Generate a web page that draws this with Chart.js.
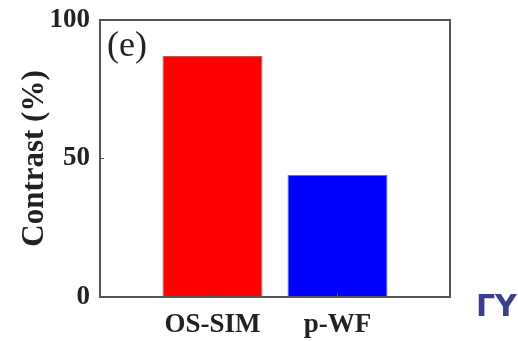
<!DOCTYPE html>
<html>
<head>
<meta charset="utf-8">
<script src="https://cdn.jsdelivr.net/npm/chart.js@4/dist/chart.umd.min.js"></script>
<style>
  html, body { margin: 0; padding: 0; background: #fff; }
  #wrap { width: 518px; height: 341px; position: relative; }
  #corner { position: absolute; left: 476px; top: 288px; font: bold 30px "DejaVu Sans", sans-serif; color: #3b3f8f; }
</style>
</head>
<body>
<div id="wrap">
  <canvas id="myChart" width="518" height="341"></canvas>
  <div id="corner">ΓΥ</div>
</div>
<script>
const categories = ["OS-SIM", "p-WF"];
const positions = [1, 2];
const contrast = [87, 44];
const barColors = ["#ff0000", "#0000ff"];
const yTicks = [0, 50, 100];

const serif = "'Liberation Serif', 'Times New Roman', serif";

// box around the plot, inward tick marks and the panel letter
const boxPlugin = {
  id: "box",
  afterDraw(chart) {
    const { ctx, chartArea: a, scales } = chart;
    ctx.save();
    ctx.strokeStyle = "#555";
    ctx.lineWidth = 2;
    ctx.strokeRect(a.left, a.top, a.right - a.left, a.bottom - a.top);
    ctx.lineWidth = 1;
    scales.y.ticks.forEach((t, i) => {
      const y = scales.y.getPixelForTick(i);
      ctx.beginPath();
      ctx.moveTo(a.left, y);
      ctx.lineTo(a.left + 4, y);
      ctx.stroke();
    });
    scales.x.ticks.forEach((t, i) => {
      const x = scales.x.getPixelForTick(i);
      ctx.beginPath();
      ctx.moveTo(x, a.bottom);
      ctx.lineTo(x, a.bottom - 4);
      ctx.stroke();
    });
    ctx.fillStyle = "#222";
    ctx.font = "36px " + serif;
    ctx.textBaseline = "top";
    ctx.fillText("(e)", a.left + 7, a.top + 9);
    ctx.restore();
  },
};

const ctx = document.getElementById("myChart");
new Chart(ctx, {
  type: "bar",
  data: {
    datasets: [
      {
        data: positions.map((x, i) => ({ x: x, y: contrast[i] })),
        backgroundColor: barColors,
        borderColor: "#777",
        borderWidth: 1,
        barPercentage: 1,
        categoryPercentage: 0.8,
      },
    ],
  },
  options: {
    responsive: false,
    animation: false,
    layout: { padding: { top: 20, right: 68, left: 0, bottom: 0 } },
    plugins: { legend: { display: false }, tooltip: { enabled: false } },
    scales: {
      x: {
        type: "linear",
        min: 0.1,
        max: 2.9,
        offset: false,
        grid: { display: false, drawTicks: false, offset: false },
        border: { display: false },
        afterBuildTicks: (scale) => {
          scale.ticks = positions.map((v) => ({ value: v }));
        },
        afterFit: (scale) => {
          scale.height = 44;
          scale.paddingLeft = 0;
          scale.paddingRight = 0;
        },
        ticks: {
          autoSkip: false,
          maxRotation: 0,
          padding: 12,
          color: "#222",
          font: { family: serif, size: 27, weight: "bold" },
          callback: (v) => categories[positions.indexOf(v)],
        },
      },
      y: {
        min: 0,
        max: 100,
        grid: { display: false, drawTicks: false },
        border: { display: false },
        afterBuildTicks: (scale) => {
          scale.ticks = yTicks.map((v) => ({ value: v }));
        },
        afterFit: (scale) => {
          scale.width = 100;
          scale.paddingTop = 0;
          scale.paddingBottom = 0;
        },
        ticks: {
          padding: 10,
          color: "#222",
          font: { family: serif, size: 27, weight: "bold" },
        },
        title: {
          display: true,
          text: "Contrast (%)",
          color: "#222",
          padding: { top: 16, bottom: 0 },
          font: { family: serif, size: 31, weight: "bold" },
        },
      },
    },
  },
  plugins: [boxPlugin],
});
</script>
</body>
</html>
